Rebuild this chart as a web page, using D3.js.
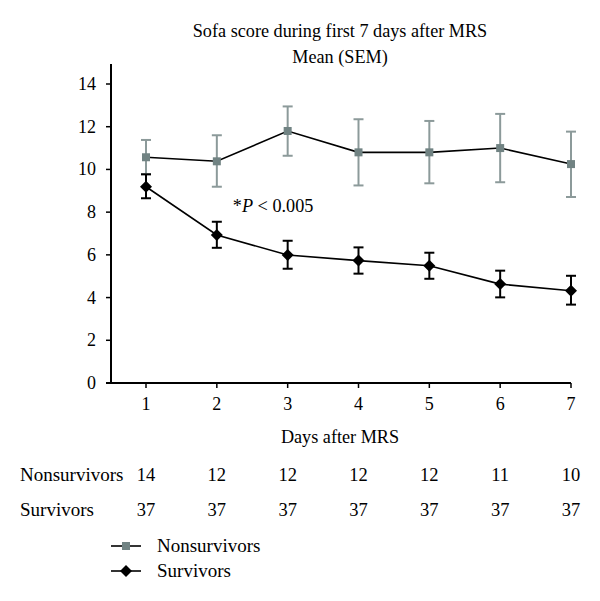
<!DOCTYPE html>
<html><head><meta charset="utf-8">
<script src="https://cdn.jsdelivr.net/npm/d3@7"></script>
<style>body{margin:0;background:#fff}</style>
</head><body>
<svg id="c" width="600" height="601"></svg>
<script>
const days = [1,2,3,4,5,6,7];
const nonMean = [10.57, 10.38, 11.8, 10.8, 10.8, 11.0, 10.25];
const nonHi   = [11.38, 11.6, 12.95, 12.35, 12.27, 12.6, 11.77];
const nonLo   = [9.78, 9.19, 10.64, 9.25, 9.35, 9.4, 8.71];
const surMean = [9.19, 6.93, 5.99, 5.73, 5.49, 4.63, 4.32];
const surHi   = [9.77, 7.55, 6.66, 6.35, 6.1, 5.26, 5.02];
const surLo   = [8.65, 6.33, 5.35, 5.12, 4.88, 4.01, 3.67];
const nNon = [14, 12, 12, 12, 12, 11, 10];
const nSur = [37, 37, 37, 37, 37, 37, 37];
const yTicks = [0,2,4,6,8,10,12,14];

const FONT = "Liberation Serif, DejaVu Serif, serif";
const grayFill = "#718383", grayBar = "#8c9a9a";
const svg = d3.select("#c");
const x = d3.scaleLinear().domain([1,7]).range([146,571]);
const y = d3.scaleLinear().domain([0,14]).range([383,84]);

// axes
svg.append("line").attr("x1",106).attr("x2",571).attr("y1",y(0)).attr("y2",y(0)).attr("stroke","#000").attr("stroke-width",2);
svg.append("line").attr("x1",111).attr("x2",111).attr("y1",y(0)).attr("y2",64).attr("stroke","#000").attr("stroke-width",2);
svg.selectAll(".yt").data(yTicks).join("line").attr("x1",106).attr("x2",111).attr("y1",d=>y(d)).attr("y2",d=>y(d)).attr("stroke","#000").attr("stroke-width",1.5);
svg.selectAll(".yl").data(yTicks).join("text").attr("x",96).attr("y",d=>y(d)+6).attr("text-anchor","end")
  .attr("font-family",FONT).attr("font-size",18).text(d=>d);
svg.selectAll(".xt").data(days).join("line").attr("x1",d=>x(d)).attr("x2",d=>x(d)).attr("y1",y(0)).attr("y2",y(0)+5).attr("stroke","#000").attr("stroke-width",1.5);
svg.selectAll(".xl").data(days).join("text").attr("x",d=>x(d)).attr("y",410).attr("text-anchor","middle")
  .attr("font-family",FONT).attr("font-size",18).text(d=>d);

// titles
const cx = 340;
svg.append("text").attr("x",cx).attr("y",37).attr("text-anchor","middle").attr("font-family",FONT).attr("font-size",18.2).text("Sofa score during first 7 days after MRS");
svg.append("text").attr("x",cx).attr("y",63).attr("text-anchor","middle").attr("font-family",FONT).attr("font-size",18.2).text("Mean (SEM)");
svg.append("text").attr("x",cx).attr("y",443).attr("text-anchor","middle").attr("font-family",FONT).attr("font-size",18.2).text("Days after MRS");

// annotation
const ann = svg.append("text").attr("x",x(2)+16).attr("y",y(8)).attr("font-family",FONT).attr("font-size",18.2);
ann.append("tspan").text("*");
ann.append("tspan").attr("font-style","italic").text("P");
ann.append("tspan").text(" < 0.005");

function series(mean, hi, lo, col, lineCol, shape){
  const g = svg.append("g");
  days.forEach((d,i)=>{
    g.append("line").attr("x1",x(d)).attr("x2",x(d)).attr("y1",y(hi[i])).attr("y2",y(lo[i])).attr("stroke",col).attr("stroke-width",2);
    [hi[i],lo[i]].forEach(v=>g.append("line").attr("x1",x(d)-5).attr("x2",x(d)+5).attr("y1",y(v)).attr("y2",y(v)).attr("stroke",col).attr("stroke-width",2));
  });
  g.append("path").datum(mean).attr("fill","none").attr("stroke",lineCol).attr("stroke-width",1.6)
    .attr("d",d3.line().x((v,i)=>x(days[i])).y(v=>y(v)));
  days.forEach((d,i)=>{
    if(shape==="square") g.append("rect").attr("x",x(d)-4).attr("y",y(mean[i])-4).attr("width",8).attr("height",8).attr("fill",grayFill);
    else g.append("path").attr("transform",`translate(${x(d)},${y(mean[i])})`).attr("d","M0,-6L6,0L0,6L-6,0Z").attr("fill","#000");
  });
}
series(nonMean, nonHi, nonLo, grayBar, "#000", "square");
series(surMean, surHi, surLo, "#000", "#000", "diamond");

// table
const tRows = [["Nonsurvivors", nNon, 481], ["Survivors", nSur, 516]];
tRows.forEach(([lab, vals, yy])=>{
  svg.append("text").attr("x",20).attr("y",yy).attr("font-family",FONT).attr("font-size",19).text(lab);
  svg.selectAll(null).data(vals).join("text").attr("x",(v,i)=>x(days[i])).attr("y",yy).attr("text-anchor","middle")
    .attr("font-family",FONT).attr("font-size",18.5).text(v=>v);
});

// legend
const leg = [["Nonsurvivors","square",546],["Survivors","diamond",571]];
leg.forEach(([lab,shape,yy])=>{
  svg.append("line").attr("x1",111).attr("x2",141).attr("y1",yy).attr("y2",yy).attr("stroke","#000").attr("stroke-width",1.6);
  if(shape==="square") svg.append("rect").attr("x",122).attr("y",yy-4).attr("width",8).attr("height",8).attr("fill",grayFill);
  else svg.append("path").attr("transform",`translate(126,${yy})`).attr("d","M0,-6L6,0L0,6L-6,0Z").attr("fill","#000");
  svg.append("text").attr("x",157).attr("y",yy+6).attr("font-family",FONT).attr("font-size",19).text(lab);
});
</script>
</body></html>
